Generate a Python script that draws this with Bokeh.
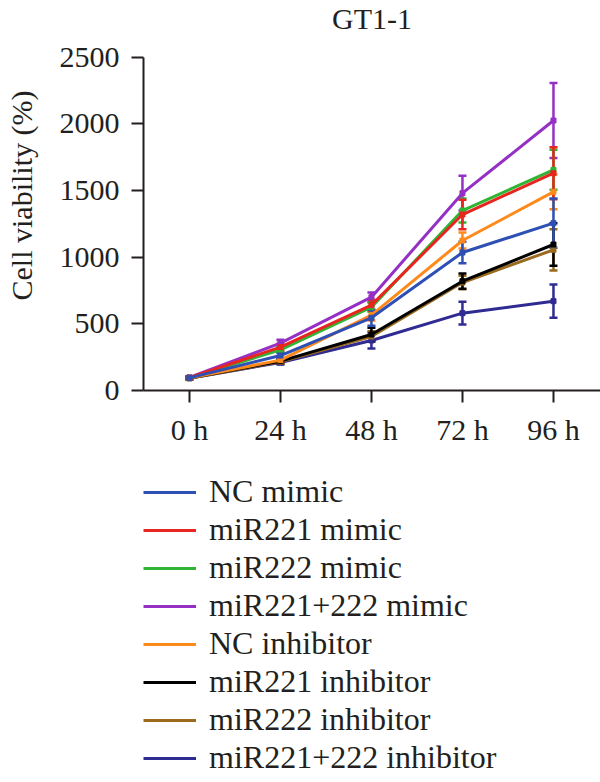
from bokeh.plotting import figure
from bokeh.layouts import column
from bokeh.models import (ColumnDataSource, Whisker, TeeHead, Legend, LegendItem,
                          Range1d, FixedTicker, Label)
from bokeh.embed import file_html
from bokeh.resources import INLINE

# ---- data ----
hours = [0, 24, 48, 72, 96]
tick_labels = ["0 h", "24 h", "48 h", "72 h", "96 h"]
y_ticks = [0, 500, 1000, 1500, 2000, 2500]
chart_title = "GT1-1"

series_names = ["NC mimic", "miR221 mimic", "miR222 mimic", "miR221+222 mimic",
                "NC inhibitor", "miR221 inhibitor", "miR222 inhibitor",
                "miR221+222 inhibitor"]

nc_mimic = [95, 262, 545, 1035, 1255]
nc_mimic_sd = [8, 20, 60, 80, 185]
mir221_mimic = [97, 325, 640, 1320, 1630]
mir221_mimic_sd = [8, 25, 40, 110, 195]
mir222_mimic = [96, 305, 625, 1350, 1655]
mir222_mimic_sd = [8, 20, 35, 90, 150]
mir221_222_mimic = [98, 355, 700, 1480, 2025]
mir221_222_mimic_sd = [8, 25, 35, 130, 282]
nc_inhibitor = [94, 228, 565, 1125, 1490]
nc_inhibitor_sd = [8, 20, 40, 60, 130]
mir221_inhibitor = [93, 220, 420, 820, 1095]
mir221_inhibitor_sd = [8, 15, 50, 57, 160]
mir222_inhibitor = [92, 215, 405, 810, 1055]
mir222_inhibitor_sd = [8, 15, 40, 50, 155]
mir221_222_inhibitor = [92, 210, 375, 580, 670]
mir221_222_inhibitor_sd = [8, 15, 60, 85, 125]

means = [nc_mimic, mir221_mimic, mir222_mimic, mir221_222_mimic,
         nc_inhibitor, mir221_inhibitor, mir222_inhibitor, mir221_222_inhibitor]
sds = [nc_mimic_sd, mir221_mimic_sd, mir222_mimic_sd, mir221_222_mimic_sd,
       nc_inhibitor_sd, mir221_inhibitor_sd, mir222_inhibitor_sd, mir221_222_inhibitor_sd]
colors = ["#2e4fb3", "#e8251f", "#2fb533", "#9530c4",
          "#ff8a1c", "#000000", "#9a6a1f", "#2f2b93"]

FONT = "Liberation Serif"
TXT = "#231f20"

Y_MAX = y_ticks[-1]
# frame spans the full top area; the axis is bounded to 0..Y_MAX
Y_TOP = Y_MAX * 390 / (390 - 56.7)

# ---- main chart ----
p = figure(width=600, height=448, output_backend="svg", toolbar_location=None,
           x_range=Range1d(-12.1, 108.4), y_range=Range1d(0, Y_TOP),
           min_border_left=143, min_border_right=0, min_border_top=0,
           min_border_bottom=58)
p.outline_line_color = None
p.grid.visible = False
p.background_fill_color = "white"

for ax in (p.xaxis[0], p.yaxis[0]):
    ax.axis_line_width = 2
    ax.axis_line_color = TXT
    ax.major_tick_line_width = 2
    ax.major_tick_line_color = TXT
    ax.major_tick_out = 12
    ax.major_tick_in = 0
    ax.minor_tick_line_color = None
    ax.major_label_text_font = FONT
    ax.major_label_text_font_size = "30px"
    ax.major_label_text_color = TXT

p.xaxis.ticker = FixedTicker(ticks=hours)
p.xaxis.major_label_overrides = {h: lab for h, lab in zip(hours, tick_labels)}
p.xaxis.major_label_standoff = 10
p.yaxis.ticker = FixedTicker(ticks=y_ticks)
p.yaxis.bounds = (0, Y_MAX)
p.yaxis.major_label_standoff = 12
p.yaxis.axis_label = "Cell viability (%)"
p.yaxis.axis_label_text_font = FONT
p.yaxis.axis_label_text_font_size = "30px"
p.yaxis.axis_label_text_font_style = "normal"
p.yaxis.axis_label_text_color = TXT
p.yaxis.axis_label_standoff = 19

p.add_layout(Label(x=228.5, y=389, x_units="screen", y_units="screen",
                   text=chart_title, text_align="center",
                   text_baseline="top", text_font=FONT,
                   text_font_size="30px", text_color=TXT))

draw_order = [7, 6, 5, 4, 3, 2, 1, 0]
for i in draw_order:
    m, s, c = means[i], sds[i], colors[i]
    src = ColumnDataSource(dict(x=hours, y=m,
                                upper=[a + b for a, b in zip(m, s)],
                                lower=[a - b for a, b in zip(m, s)]))
    p.line("x", "y", source=src, line_color=c, line_width=3)
    p.scatter("x", "y", source=src, marker="square", size=5,
              fill_color=c, line_color=c)
    w = Whisker(source=src, base="x", upper="upper", lower="lower",
                line_color=c, line_width=2.5,
                upper_head=TeeHead(size=8, line_color=c, line_width=2.5),
                lower_head=TeeHead(size=8, line_color=c, line_width=2.5))
    p.add_layout(w)

# ---- legend panel ----
lg = figure(width=600, height=334, output_backend="svg", toolbar_location=None,
            x_range=Range1d(0, 1), y_range=Range1d(0, 1),
            min_border=0, min_border_left=0, min_border_right=0,
            min_border_top=0, min_border_bottom=0)
lg.axis.visible = False
lg.grid.visible = False
lg.outline_line_color = None

items = []
for name, c in zip(series_names, colors):
    # drawn outside the visible range: only its legend swatch shows
    r = lg.line(x=[-2, -1], y=[-2, -1], line_color=c, line_width=3)
    items.append(LegendItem(label=name, renderers=[r]))

legend = Legend(items=items, location=(0, 6), orientation="vertical",
                glyph_width=53, glyph_height=20, label_standoff=13,
                label_text_font=FONT, label_text_font_size="32px",
                label_text_color=TXT, label_height=20, spacing=1,
                padding=0, margin=0, border_line_color=None,
                background_fill_alpha=0)
lg.add_layout(legend, "center")

layout = column(p, lg, spacing=0)
open("out.html", "w").write(file_html(layout, INLINE))
